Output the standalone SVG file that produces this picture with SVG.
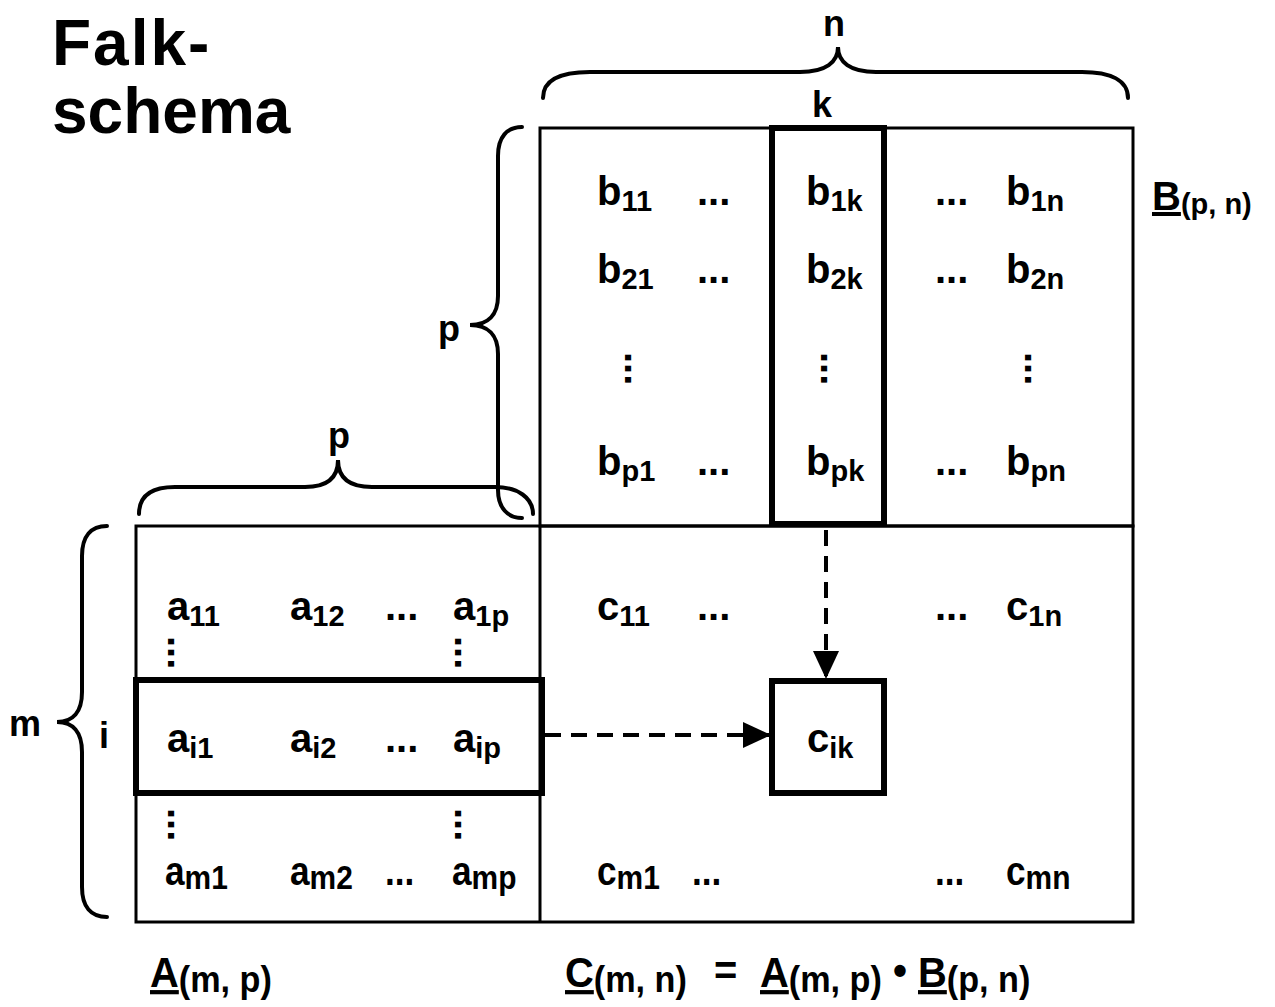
<svg xmlns="http://www.w3.org/2000/svg" width="1275" height="1007" viewBox="0 0 1275 1007">
  <style>
    .t{font-family:"Liberation Sans",Arial,Helvetica,sans-serif;font-weight:bold;fill:#000}
    .title{font-size:64px}
    .e{font-size:40px}
    .s{font-size:29px}
    .sb{font-size:34px}
    .cap{font-size:42px}
    .cs{font-size:36px}
    .lbl{font-size:36px}
    .u{text-decoration:underline}
    .frame{fill:none;stroke:#000;stroke-width:3}
    .hl{fill:none;stroke:#000;stroke-width:6}
    .brace{fill:none;stroke:#000;stroke-width:4;stroke-linecap:round}
    .dash{fill:none;stroke:#000;stroke-width:4;stroke-dasharray:16 10}
  </style>
  <defs>
    <marker id="head" viewBox="0 0 28 26" refX="28" refY="13" markerWidth="28" markerHeight="26" markerUnits="userSpaceOnUse" orient="auto">
      <path d="M0,0 L28,13 L0,26 z" fill="#000"/>
    </marker>
  </defs>
  <rect width="1275" height="1007" fill="#fff"/>

  <!-- title -->
  <g id="title">
    <text class="t title" x="52" y="65" letter-spacing="2">Falk-</text>
    <text class="t title" x="52" y="133">schema</text>
  </g>

  <!-- matrix frames -->
  <g id="frames">
    <rect class="frame" x="540" y="128" width="593" height="398"/>
    <rect class="frame" x="136" y="526" width="997" height="396"/>
    <line class="frame" x1="540" y1="526" x2="540" y2="922"/>
  </g>

  <!-- braces with dimension labels -->
  <g id="braces">
    <path class="brace" d="M543,98 C543,80 560,72 590,72 L800,72 C826,72 838,62 838,47 C838,62 850,72 876,72 L1082,72 C1110,72 1128,80 1128,98"/>
    <text class="t lbl" x="823" y="36">n</text>
    <text class="t lbl" x="812" y="117">k</text>

    <path class="brace" d="M522,127 C507,127 498,137 498,156 L498,296 C498,315 488,325 470,325 C488,325 498,335 498,354 L498,490 C498,508 508,518 522,518"/>
    <text class="t lbl" x="438" y="341">p</text>

    <path class="brace" d="M139,514 C139,497 150,487 175,487 L305,487 C328,487 338,477 338,460 C338,477 348,487 372,487 L495,487 C518,487 533,498 533,514"/>
    <text class="t lbl" x="328" y="448">p</text>

    <path class="brace" d="M107,526 C91,526 82,536 82,556 L82,692 C82,712 73,722 57,722 C73,722 82,732 82,752 L82,887 C82,907 91,917 107,917"/>
    <text class="t lbl" x="9" y="736">m</text>
    <text class="t lbl" x="99" y="748">i</text>
  </g>

  <!-- highlighted column k, row i and result element -->
  <g id="col-k"><rect class="hl" x="772" y="128" width="112" height="396"/></g>
  <g id="row-i"><rect class="hl" x="136" y="680" width="406" height="113"/></g>
  <g id="c-ik">
    <rect class="hl" x="772" y="681" width="112" height="112"/>
    <text class="t e" x="807" y="752">c<tspan class="s" dy="6">ik</tspan></text>
  </g>

  <!-- matrix B -->
  <g id="matrix-b">
    <text class="t e" x="597" y="205">b<tspan class="s" dy="6">11</tspan></text>
    <text class="t e" x="697" y="205">...</text>
    <text class="t e" x="806" y="205">b<tspan class="s" dy="6">1k</tspan></text>
    <text class="t e" x="935" y="205">...</text>
    <text class="t e" x="1006" y="205">b<tspan class="s" dy="6">1n</tspan></text>

    <text class="t e" x="597" y="283">b<tspan class="s" dy="6">21</tspan></text>
    <text class="t e" x="697" y="283">...</text>
    <text class="t e" x="806" y="283">b<tspan class="s" dy="6">2k</tspan></text>
    <text class="t e" x="935" y="283">...</text>
    <text class="t e" x="1006" y="283">b<tspan class="s" dy="6">2n</tspan></text>

    <text class="t e" transform="translate(625,352) rotate(90)">...</text>
    <text class="t e" transform="translate(821,352) rotate(90)">...</text>
    <text class="t e" transform="translate(1025,352) rotate(90)">...</text>

    <text class="t e" x="597" y="475">b<tspan class="s" dy="6">p1</tspan></text>
    <text class="t e" x="697" y="475">...</text>
    <text class="t e" x="806" y="475">b<tspan class="s" dy="6">pk</tspan></text>
    <text class="t e" x="935" y="475">...</text>
    <text class="t e" x="1006" y="475">b<tspan class="s" dy="6">pn</tspan></text>

    <text class="t e" x="1152" y="210"><tspan class="u">B</tspan><tspan class="s" dy="4">(p, n)</tspan></text>
  </g>

  <!-- matrix A -->
  <g id="matrix-a">
    <text class="t e" x="167" y="620">a<tspan class="s" dy="6">11</tspan></text>
    <text class="t e" x="290" y="620">a<tspan class="s" dy="6">12</tspan></text>
    <text class="t e" x="385" y="620">...</text>
    <text class="t e" x="453" y="620">a<tspan class="s" dy="6">1p</tspan></text>
    <text class="t e" transform="translate(168,636) rotate(90)">...</text>
    <text class="t e" transform="translate(455,636) rotate(90)">...</text>

    <text class="t e" x="167" y="752">a<tspan class="s" dy="6">i1</tspan></text>
    <text class="t e" x="290" y="752">a<tspan class="s" dy="6">i2</tspan></text>
    <text class="t e" x="385" y="752">...</text>
    <text class="t e" x="453" y="752">a<tspan class="s" dy="6">ip</tspan></text>

    <text class="t e" transform="translate(168,808) rotate(90)">...</text>
    <text class="t e" transform="translate(455,808) rotate(90)">...</text>

    <text class="t e" transform="translate(165,885) scale(0.88,1)">a<tspan class="sb" dy="4">m1</tspan></text>
    <text class="t e" transform="translate(290,885) scale(0.88,1)">a<tspan class="sb" dy="4">m2</tspan></text>
    <text class="t e" transform="translate(385,885) scale(0.88,1)">...</text>
    <text class="t e" transform="translate(452,885) scale(0.88,1)">a<tspan class="sb" dy="4">mp</tspan></text>
  </g>

  <!-- matrix C -->
  <g id="matrix-c">
    <text class="t e" x="597" y="620">c<tspan class="s" dy="6">11</tspan></text>
    <text class="t e" x="697" y="620">...</text>
    <text class="t e" x="935" y="620">...</text>
    <text class="t e" x="1006" y="620">c<tspan class="s" dy="6">1n</tspan></text>

    <text class="t e" transform="translate(597,885) scale(0.88,1)">c<tspan class="sb" dy="4">m1</tspan></text>
    <text class="t e" transform="translate(692,885) scale(0.88,1)">...</text>
    <text class="t e" transform="translate(935,885) scale(0.88,1)">...</text>
    <text class="t e" transform="translate(1006,885) scale(0.88,1)">c<tspan class="sb" dy="4">mn</tspan></text>
  </g>

  <!-- connectors -->
  <g id="connectors">
    <line class="dash" x1="826" y1="530" x2="826" y2="679" marker-end="url(#head)"/>
    <line class="dash" x1="545" y1="735" x2="771" y2="735" marker-end="url(#head)"/>
  </g>

  <!-- formula captions -->
  <g id="captions">
    <text class="t cap" transform="translate(150,987) scale(0.95,1)"><tspan class="u">A</tspan><tspan class="cs" dy="5">(m, p)</tspan></text>
    <text class="t cap" transform="translate(565,987) scale(0.95,1)"><tspan class="u">C</tspan><tspan class="cs" dy="5">(m, n)</tspan></text>
    <text class="t cap" transform="translate(714,985) scale(0.95,1)">=</text>
    <text class="t cap" transform="translate(760,987) scale(0.95,1)"><tspan class="u">A</tspan><tspan class="cs" dy="5">(m, p)</tspan></text>
    <text class="t cap" transform="translate(893,985) scale(0.95,1)">•</text>
    <text class="t cap" transform="translate(918,987) scale(0.95,1)"><tspan class="u">B</tspan><tspan class="cs" dy="5">(p, n)</tspan></text>
  </g>
</svg>
